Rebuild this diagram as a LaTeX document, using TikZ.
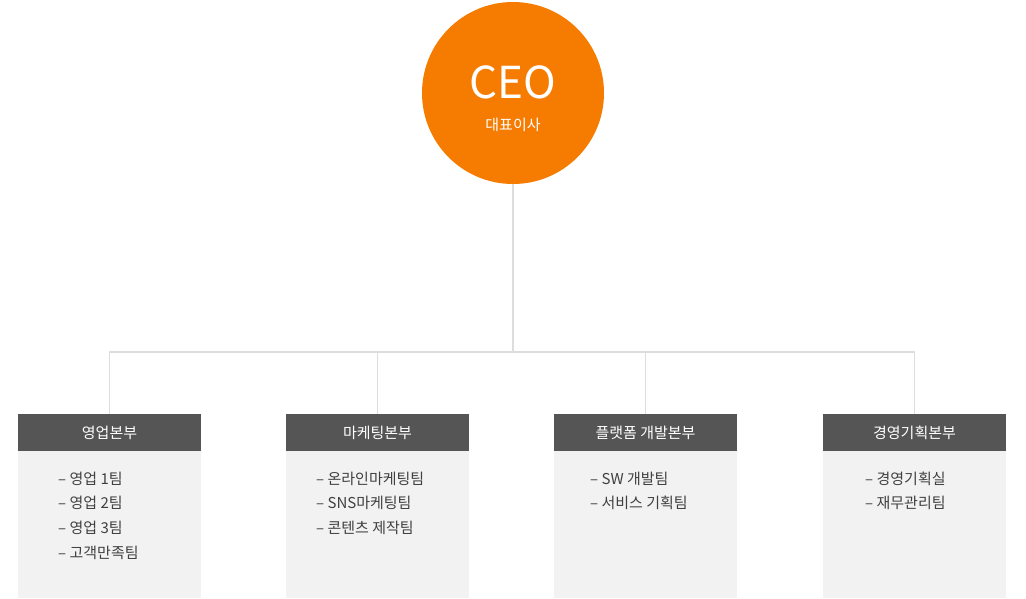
\documentclass[tikz,border=0pt]{standalone}
\usepackage{fontspec}
\setmainfont{Noto Sans CJK KR}
\definecolor{ceoorange}{HTML}{F57C00}
\definecolor{headgray}{HTML}{555555}
\definecolor{bodygray}{HTML}{F2F2F2}
\definecolor{linegray}{HTML}{DDDDDD}
\tikzset{
  head/.style={fill=headgray,text=white,minimum width=183pt,minimum height=37pt,inner sep=0pt,font=\fontsize{15}{18}\selectfont},
  body/.style={fill=bodygray,minimum width=183pt,minimum height=147pt,inner sep=0pt},
  item/.style={anchor=west,inner sep=0pt,text=black!75,font=\fontsize{15}{18}\selectfont},
  link/.style={draw=linegray,line width=1.5pt}
}
\begin{document}
\begin{tikzpicture}[x=1pt,y=-1pt]
  \useasboundingbox (0,0) rectangle (1026,598);
  \node[circle,fill=ceoorange,minimum size=182pt,inner sep=0pt] (ceo) at (513,93) {};
  \node[text=white,font=\fontsize{44}{48}\selectfont] (ceot) at (513,82) {CEO};
  \node[text=white,font=\fontsize{15}{18}\selectfont] (ceos) at (513,125) {대표이사};
  \coordinate (hub) at (513,352);
  \draw[link] (ceo.south) -- (hub);
  % departments
  \node[head] (h1) at (109.5,432.5) {영업본부};
  \node[head] (h2) at (377.5,432.5) {마케팅본부};
  \node[head] (h3) at (645.5,432.5) {플랫폼 개발본부};
  \node[head] (h4) at (914.5,432.5) {경영기획본부};
  \foreach \n in {1,...,4}
    \node[body,anchor=north] (b\n) at (h\n.south) {};
  \draw[link] (h1.north) |- (hub) -| (h4.north);
  \draw[link] (h2.north) -- (h2.north |- hub);
  \draw[link] (h3.north) -- (h3.north |- hub);
  % teams
  \node[item] (t11) at (58,479) {– 영업 1팀};
  \node[item] (t12) at (58,503) {– 영업 2팀};
  \node[item] (t13) at (58,528) {– 영업 3팀};
  \node[item] (t14) at (58,553) {– 고객만족팀};
  \node[item] (t21) at (316,479) {– 온라인마케팅팀};
  \node[item] (t22) at (316,503) {– SNS마케팅팀};
  \node[item] (t23) at (316,528) {– 콘텐츠 제작팀};
  \node[item] (t31) at (590,479) {– SW 개발팀};
  \node[item] (t32) at (590,503) {– 서비스 기획팀};
  \node[item] (t41) at (865,479) {– 경영기획실};
  \node[item] (t42) at (865,503) {– 재무관리팀};
\end{tikzpicture}
\end{document}
